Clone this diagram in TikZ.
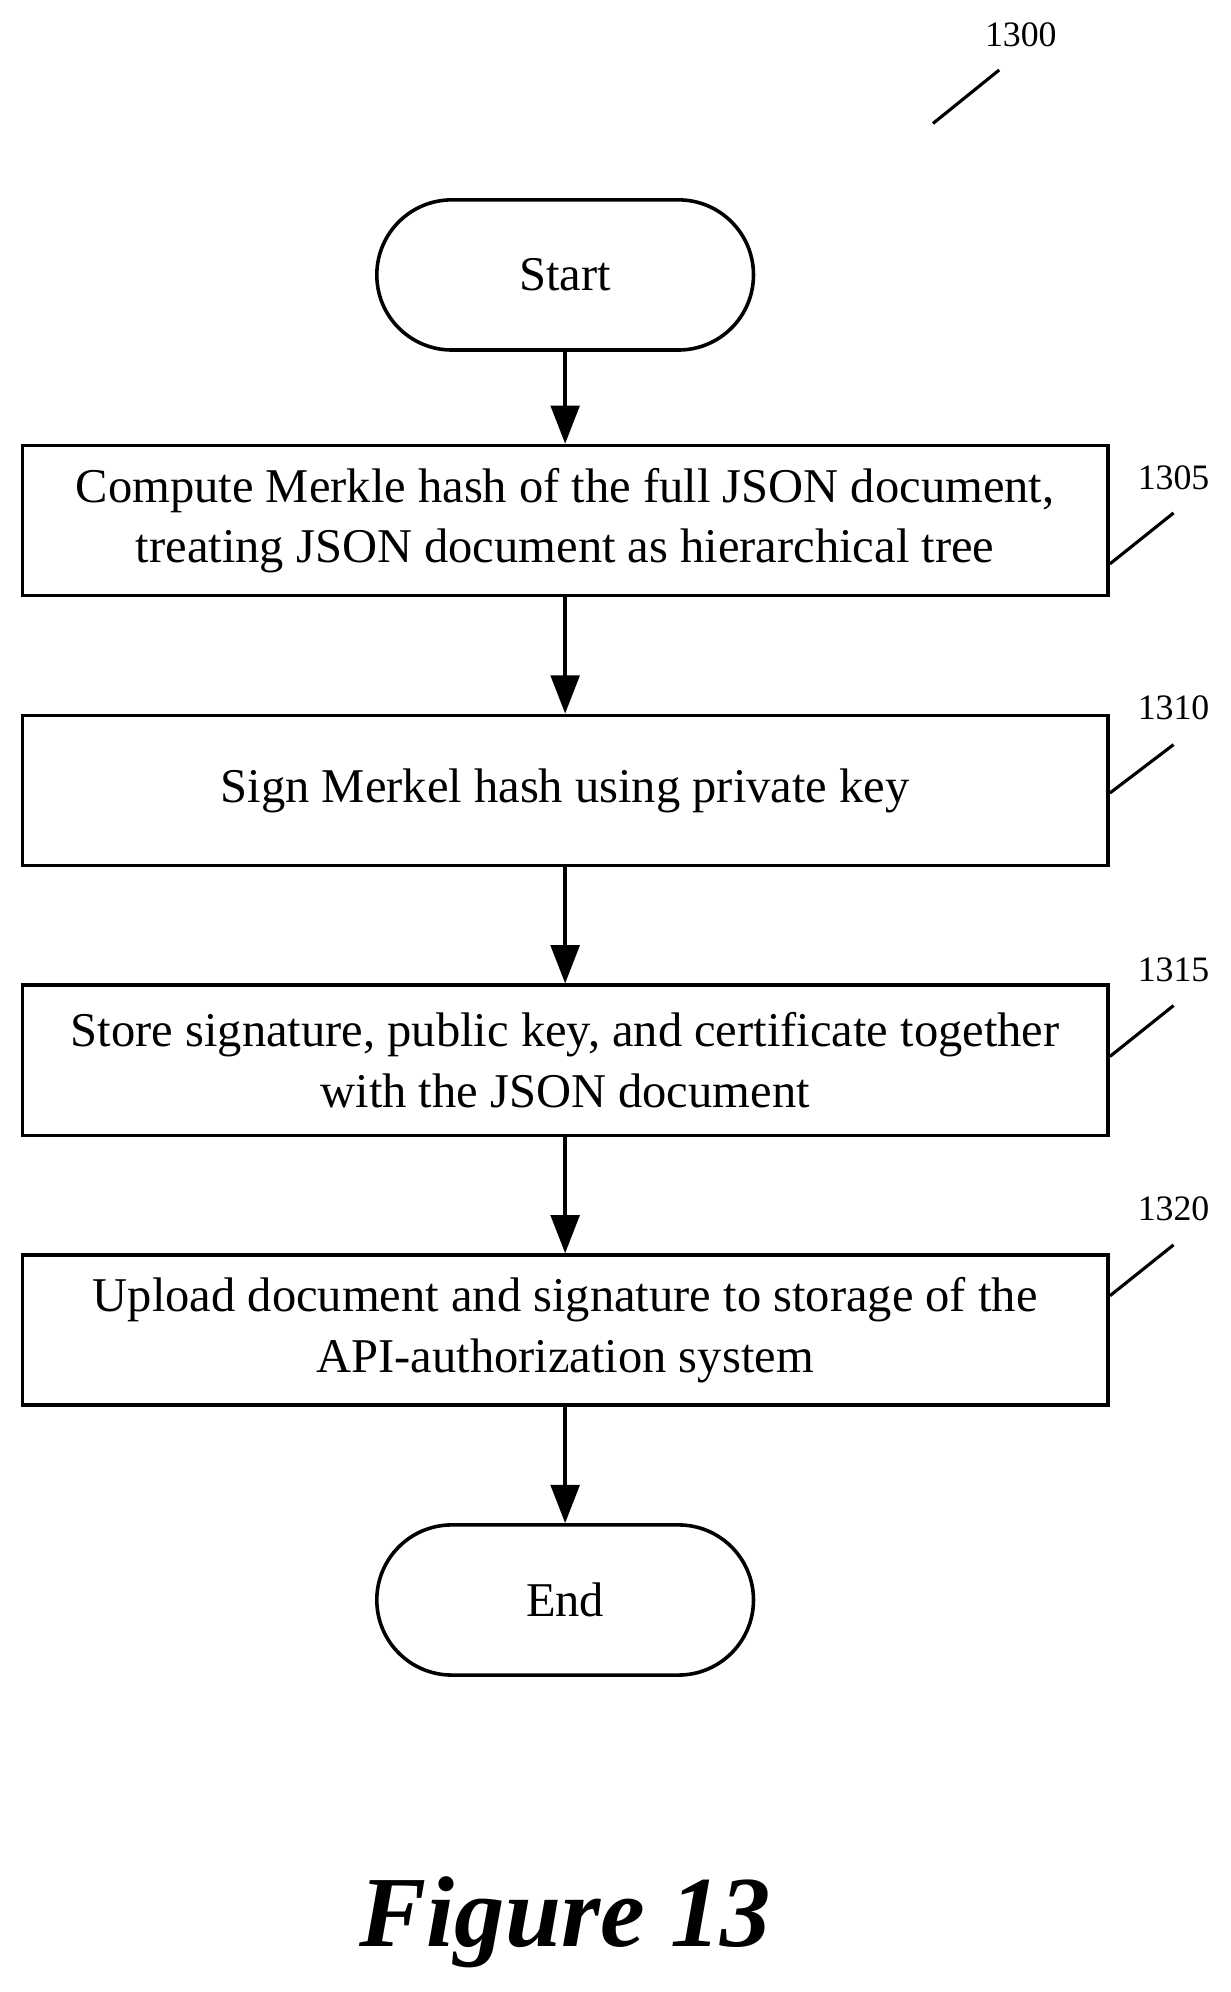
\documentclass[tikz,border=0pt]{standalone}
\usepackage{fontspec}
\setmainfont{Liberation Serif}
\usetikzlibrary{arrows.meta,positioning}
\tikzset{
  flowstep/.style = {rectangle, draw, line width=1.6pt, minimum width=17.06cm, minimum height=2.36cm,
    align=center, font=\fontsize{21.7}{27}\selectfont},
  term/.style = {rectangle, draw, line width=1.6pt, rounded corners=1.18cm, minimum width=5.92cm,
    minimum height=2.36cm, font=\fontsize{21.7}{27}\selectfont},
  line/.style = {draw, line width=1.6pt, -{Triangle[length=0.6cm,width=0.45cm]}},
  tag/.style = {font=\fontsize{16}{19}\selectfont},
  lead/.style = {draw, line width=1.4pt}
}
\begin{document}
\begin{tikzpicture}[x=0.02cm, y=-0.02cm]
    \useasboundingbox (0,0) rectangle (967,1565);
    % Place nodes
    \node [term] (start) at (444,216) {Start};
    \node [flowstep] (merkle) at (444,409) {Compute Merkle hash of the full JSON document,\\ treating JSON document as hierarchical tree};
    \node [flowstep] (sign) at (444,621) {Sign Merkel hash using private key};
    \node [flowstep] (store) at (444,833) {Store signature, public key, and certificate together\\ with the JSON document};
    \node [flowstep] (upload) at (444,1045) {Upload document and signature to storage of the\\ API-authorization system};
    \node [term] (end) at (444,1257) {End};
    % Reference numerals
    \node [tag] (n1300) at (802,27) {1300};
    \node [tag] (n1305) at (922,375) {1305};
    \node [tag] (n1310) at (922,556) {1310};
    \node [tag] (n1315) at (922,762) {1315};
    \node [tag] (n1320) at (922,950) {1320};
    \coordinate (t1300) at (733,97);
    \coordinate (t1305) at (872,443);
    \coordinate (t1310) at (872,623);
    \coordinate (t1315) at (872,830);
    \coordinate (t1320) at (872,1018);
    \path [lead] (t1300) -- (785,55);
    \path [lead] (t1305) -- (922,403);
    \path [lead] (t1310) -- (922,585);
    \path [lead] (t1315) -- (922,790);
    \path [lead] (t1320) -- (922,978);
    % Draw edges
    \path [line] (start) -- (merkle);
    \path [line] (merkle) -- (sign);
    \path [line] (sign) -- (store);
    \path [line] (store) -- (upload);
    \path [line] (upload) -- (end);
    \node [font=\fontsize{45}{52}\selectfont\bfseries\itshape] (fig) at (444,1510) {Figure 13};
\end{tikzpicture}
\end{document}
